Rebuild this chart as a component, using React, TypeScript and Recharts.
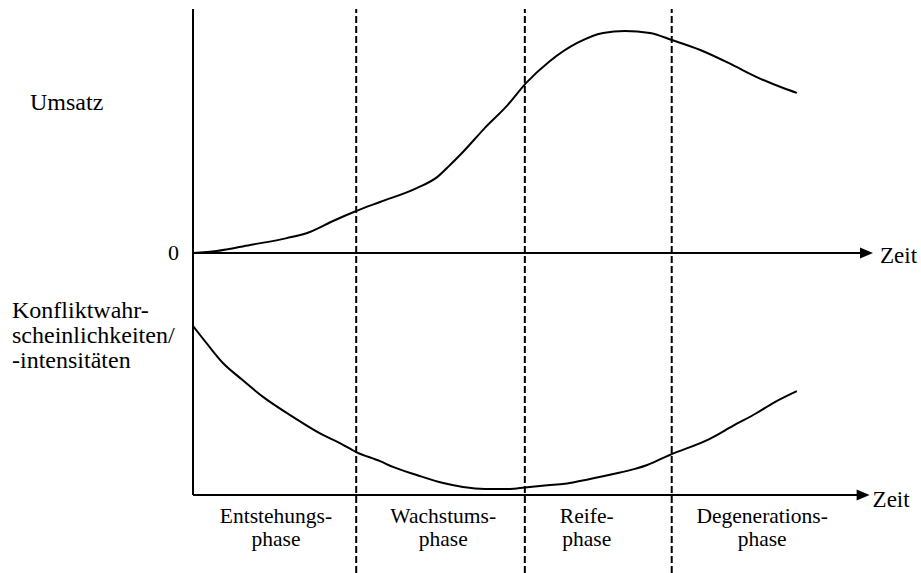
import React from 'react';
import { ComposedChart, Line, XAxis, YAxis, ReferenceLine } from 'recharts';

// Zeitachse 0..100 (Pfeilspitze bei 100)
const zeitUmsatz = [0, 3.5, 8.4, 13.8, 17.2, 20.6, 24.0, 27.5, 32.9, 35.9, 37.8, 39.7, 42.9, 46.3, 49.0, 52.5, 56.5, 60.3, 63.5, 67.2, 70.4, 74.6, 79.4, 82.9, 86.8, 88.8];
const umsatz = [0, 0.8, 3.3, 6.1, 8.6, 13.1, 17.2, 20.9, 26.6, 31.1, 36.1, 41.4, 51.2, 60.7, 69.7, 78.7, 86.1, 90.2, 91.0, 90.2, 87.3, 83.2, 77.0, 72.1, 67.6, 65.6];

const zeitKonflikt = [0, 2.2, 4.4, 6.9, 10.3, 14.7, 19.1, 21.6, 24.0, 27.5, 29.4, 32.9, 36.8, 39.7, 42.9, 46.6, 48.8, 52.1, 54.7, 56.9, 61.8, 65.0, 66.8, 70.1, 76.0, 79.4, 82.9, 85.3, 88.8];
const konflikt = [69.3, 61.5, 54.1, 48.0, 40.2, 32.0, 24.6, 21.3, 17.6, 13.9, 11.5, 8.2, 4.9, 3.3, 2.5, 2.5, 3.1, 4.0, 4.6, 5.7, 8.6, 10.7, 12.3, 16.4, 23.0, 28.3, 33.6, 37.7, 42.6];

const phasenGrenzen = [24.0, 48.8, 70.4];
const phasenMitte = [12.2, 36.8, 57.9, 83.7];
const phasenOben = ['Entstehungs-', 'Wachstums-', 'Reife-', 'Degenerations-'];
const phasenUnten = ['phase', 'phase', 'phase', 'phase'];

const umsatzData = zeitUmsatz.map((t, i) => ({ t, v: umsatz[i] }));
const konfliktData = zeitKonflikt.map((t, i) => ({ t, v: konflikt[i] }));

const FONT = 'Liberation Serif';

// beide Panels teilen sich eine Zeichenfläche, daher zwei y-Achsen
const U_DOMAIN: [number, number] = [-131.15, 100];
const K_DOMAIN: [number, number] = [-31.97, 199.18];

const zeitPfeil = (dx: number, dy: number) => (props: any) => {
  const { x1, y1, x2, y2 } = props;
  return (
    <g>
      <line x1={x1} y1={y1} x2={x2 - 10} y2={y2} stroke="#000" strokeWidth={2} />
      <polygon points={`${x2},${y2} ${x2 - 13},${y2 - 5.5} ${x2 - 13},${y2 + 5.5}`} fill="#000" />
      <text x={x2 + dx} y={y2 + dy} fill="#000" style={{ fontFamily: FONT, fontSize: 23 }}>Zeit</text>
    </g>
  );
};

const PhaseTick = (props: any) => {
  const { x, y, index } = props;
  return (
    <g>
      <text x={x} y={y - 50} textAnchor="middle" fill="#000" style={{ fontFamily: FONT, fontSize: 21.5 }}>{phasenOben[index]}</text>
      <text x={x} y={y - 27} textAnchor="middle" fill="#000" style={{ fontFamily: FONT, fontSize: 21.5 }}>{phasenUnten[index]}</text>
    </g>
  );
};

const ZeroTick = (props: any) => {
  const { x, y } = props;
  return (
    <text x={x} y={y + 7} textAnchor="end" fill="#000" style={{ fontFamily: FONT, fontSize: 22 }}>0</text>
  );
};

const App: React.FC = () => {
  return (
    <div style={{ position: 'absolute', left: 0, top: 0, width: 921, height: 573, overflow: 'hidden', background: '#fff' }}>
      <ComposedChart width={921} height={603} margin={{ top: 9, right: 48, bottom: 0, left: 0 }}>
        <XAxis
          dataKey="t"
          type="number"
          domain={[0, 100]}
          ticks={phasenMitte}
          height={30}
          axisLine={false}
          tickLine={false}
          tickSize={0}
          tickMargin={0}
          tick={<PhaseTick />}
          interval={0}
          allowDataOverflow
        />
        <YAxis
          yAxisId="k"
          type="number"
          domain={K_DOMAIN}
          ticks={[0]}
          width={0}
          axisLine={false}
          tickLine={false}
          tickMargin={8}
          tick={<ZeroTick />}
          allowDataOverflow
        />
        <YAxis
          yAxisId="u"
          type="number"
          domain={U_DOMAIN}
          ticks={[0]}
          width={193}
          axisLine={false}
          tickLine={false}
          tickMargin={8}
          tick={<ZeroTick />}
          allowDataOverflow
        />

        {phasenGrenzen.map((g) => (
          <ReferenceLine key={g} x={g} yAxisId="u" stroke="#000" strokeWidth={2} strokeDasharray="7 3" ifOverflow="visible" />
        ))}

        <ReferenceLine
          yAxisId="k"
          segment={[{ x: 0, y: 0 }, { x: 0, y: K_DOMAIN[1] }]}
          stroke="#000"
          strokeWidth={2}
          ifOverflow="visible"
        />
        <ReferenceLine
          yAxisId="u"
          segment={[{ x: 0, y: 0 }, { x: 100, y: 0 }]}
          shape={zeitPfeil(7, 10)}
          ifOverflow="visible"
        />
        <ReferenceLine
          yAxisId="k"
          segment={[{ x: 0, y: 0 }, { x: 99.5, y: 0 }]}
          shape={zeitPfeil(3, 12)}
          ifOverflow="visible"
        />

        <Line
          data={umsatzData}
          dataKey="v"
          yAxisId="u"
          type="monotone"
          stroke="#000"
          strokeWidth={2}
          dot={false}
          activeDot={false}
          isAnimationActive={false}
        />
        <Line
          data={konfliktData}
          dataKey="v"
          yAxisId="k"
          type="monotone"
          stroke="#000"
          strokeWidth={2}
          dot={false}
          activeDot={false}
          isAnimationActive={false}
        />
      </ComposedChart>

      <svg width={921} height={573} style={{ position: 'absolute', left: 0, top: 0, pointerEvents: 'none' }}>
        <text x={30} y={110} fill="#000" style={{ fontFamily: FONT, fontSize: 24 }}>Umsatz</text>
        <text x={12} y={318} fill="#000" style={{ fontFamily: FONT, fontSize: 24 }}>Konfliktwahr-</text>
        <text x={12} y={343} fill="#000" style={{ fontFamily: FONT, fontSize: 24 }}>scheinlichkeiten/</text>
        <text x={12} y={368} fill="#000" style={{ fontFamily: FONT, fontSize: 24 }}>-intensitäten</text>
      </svg>
    </div>
  );
};

export default App;
